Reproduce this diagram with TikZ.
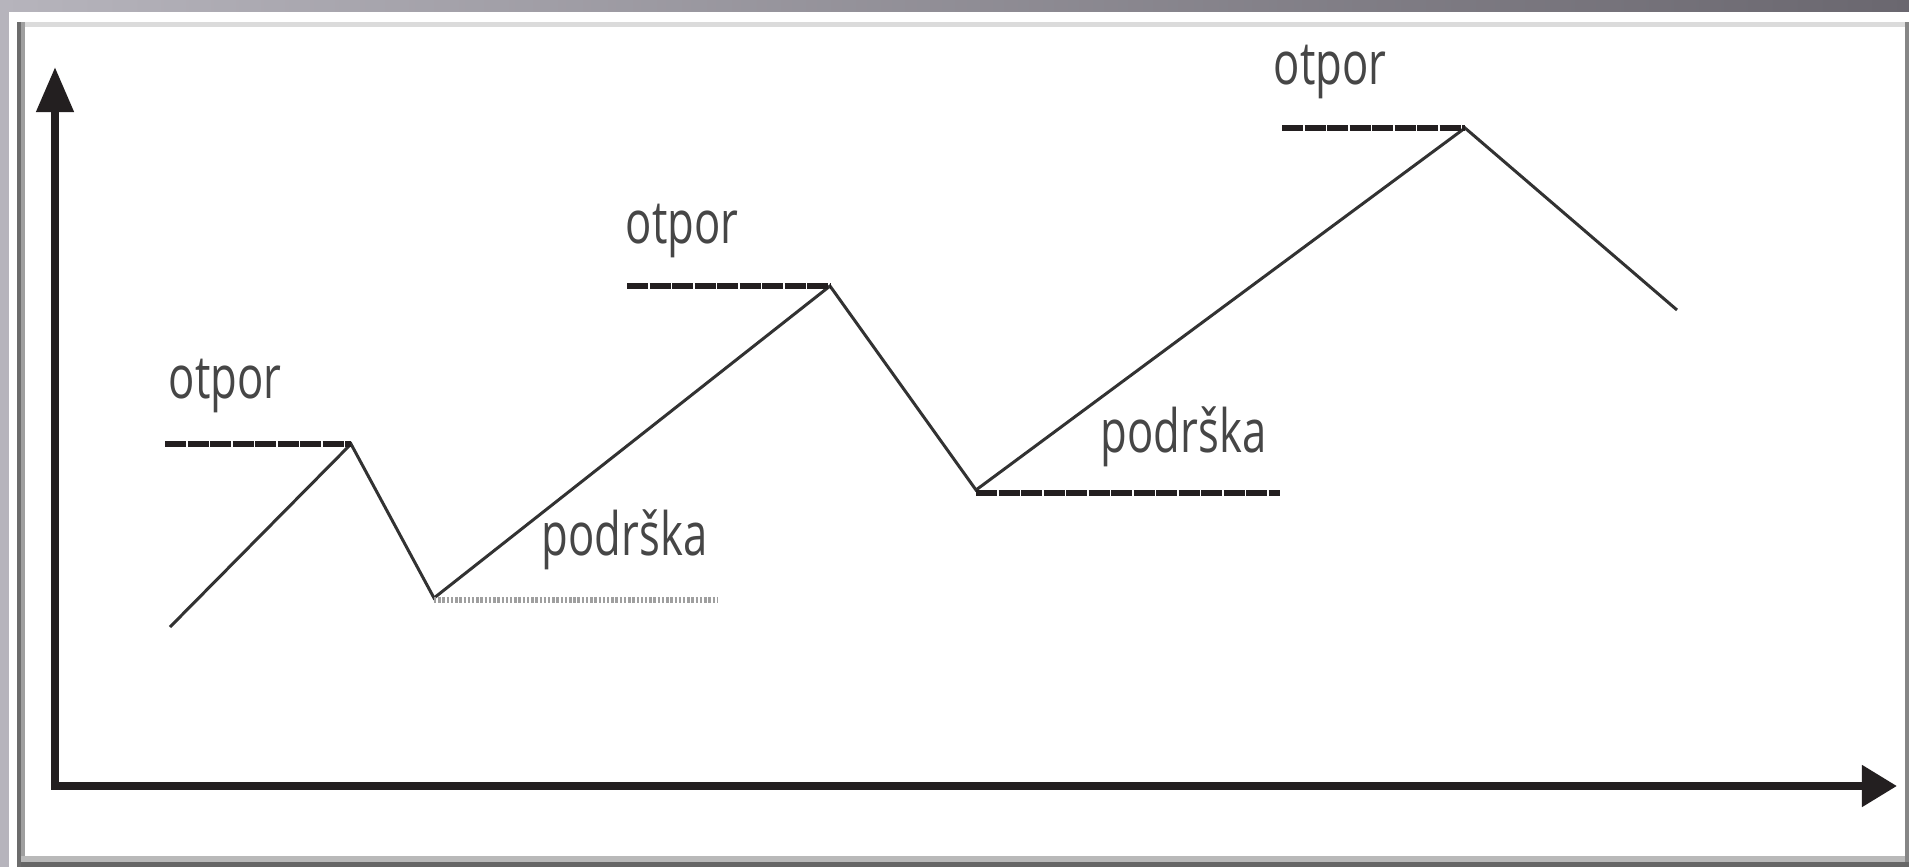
\documentclass[tikz,border=0pt]{standalone}
\usepackage{graphicx}
\usepackage{fontspec}
\setmainfont{Open Sans}
\usetikzlibrary{arrows.meta}

\definecolor{bgleft}{RGB}{182,180,188}
\definecolor{bgright}{RGB}{106,103,111}
\definecolor{axisc}{RGB}{35,31,32}
\definecolor{linec}{RGB}{50,50,50}
\definecolor{txtc}{RGB}{70,70,70}
\newcommand{\lbl}[1]{\scalebox{0.73}[1]{#1}}

\begin{document}
\begin{tikzpicture}[x=0.01cm, y=-0.01cm,
  axis/.style={draw=axisc, line width=2.3pt, line join=miter},
  price/.style={draw=linec, line width=0.85pt},
  otporline/.style={draw=axisc, line width=1.9pt, dash pattern=on 6pt off 0.4pt},
  podrline/.style={draw=gray!75, line width=1.5pt, dash pattern=on 0.7pt off 0.5pt},
  lbl/.style={anchor=base west, inner sep=0pt, text=txtc, font=\fontsize{17}{20}\selectfont}]
  \useasboundingbox (0,0) rectangle (1909,867);
  % frame
  \shade[left color=bgleft, right color=bgright] (0,0) rectangle (1909,867);
  \fill[white] (9,12) rectangle (1909,867);
  \fill[gray!85!black] (17,22) rectangle (21,867);
  \fill[gray!75] (21,22) rectangle (25,867);
  \fill[gray!28] (25,22) rectangle (1905,27);
  \fill[gray!95] (1905,22) rectangle (1909,862);
  \fill[gray!55] (21,856) rectangle (1905,862);
  \fill[gray!120] (21,862) rectangle (1909,867);

  % axes
  \coordinate (o) at (55,786);
  \coordinate (ytop) at (55,67);
  \coordinate (xend) at (1897,786);
  \draw[axis, {Triangle[length=12.8pt,width=10.2pt]}-{Triangle[length=10pt,width=11.4pt]}]
    (ytop) -- (o) -- (xend);

  % price path
  \coordinate (s) at (170,627);
  \coordinate (p1) at (351,444);
  \coordinate (t1) at (434,598);
  \coordinate (p2) at (830,286);
  \coordinate (t2) at (976,490);
  \coordinate (p3) at (1465,128);
  \coordinate (e) at (1677,310);
  \draw[price] (s) -- (p1) -- (t1) -- (p2) -- (t2) -- (p3) -- (e);

  % levels
  \coordinate (r1) at (165,444);
  \coordinate (r2) at (627,286);
  \coordinate (r3) at (1282,128);
  \coordinate (s1) at (718,600);
  \coordinate (s2) at (1280,493);
  \draw[otporline] (r1) -- (p1);
  \draw[otporline] (r2) -- (p2);
  \draw[otporline] (r3) -- (p3);
  \draw[podrline] (t1 |- s1) -- (s1);
  \draw[otporline] (t2 |- s2) -- (s2);

  % labels
  \node[lbl] (otpor1) at (168,398) {\lbl{otpor}};
  \node[lbl] (otpor2) at (625,243) {\lbl{otpor}};
  \node[lbl] (otpor3) at (1273,85) {\lbl{otpor}};
  \node[lbl] (podrska1) at (541,555) {\lbl{podrška}};
  \node[lbl] (podrska2) at (1100,452) {\lbl{podrška}};
\end{tikzpicture}
\end{document}
